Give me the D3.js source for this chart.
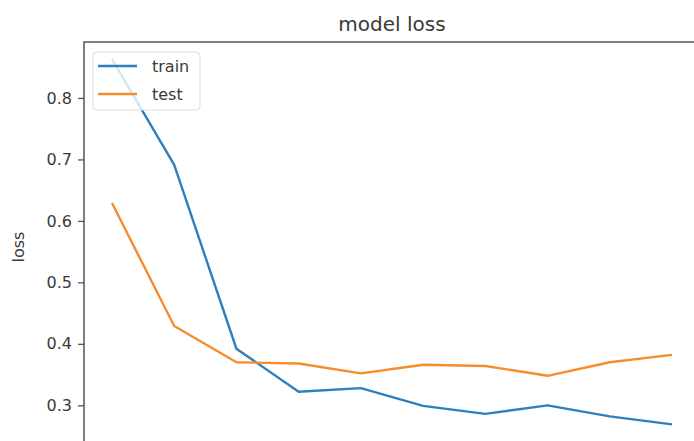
<!DOCTYPE html>
<html>
<head>
<meta charset="utf-8">
<script src="https://cdn.jsdelivr.net/npm/d3@7"></script>
<style>
  html, body { margin: 0; padding: 0; background: #fff; overflow: hidden; }
  text { font-family: "DejaVu Sans", sans-serif; fill: #3a3a3a; }
</style>
</head>
<body>
<div id="container"></div>
<script>
const width = 694,
      height = 441;

// plot box (the right and bottom spines fall just outside the picture)
const box = { left: 84, top: 42, right: 700, bottom: 443 };

// data
const epochs = [0, 1, 2, 3, 4, 5, 6, 7, 8, 9];
const trainLoss = [0.863, 0.691, 0.392, 0.322, 0.328, 0.299, 0.286, 0.300, 0.282, 0.269];
const testLoss = [0.629, 0.429, 0.370, 0.368, 0.352, 0.366, 0.364, 0.348, 0.370, 0.382];
const yTicks = [0.3, 0.4, 0.5, 0.6, 0.7, 0.8];

const series = [
  { name: "train", values: trainLoss, color: "#2c80bf" },
  { name: "test", values: testLoss, color: "#f58d2c" }
];

const xScale = d3.scaleLinear()
  .domain([-0.45, 9.45])
  .range([box.left, box.right]);

const yScale = d3.scaleLinear()
  .domain([0.2387, 0.891])
  .range([box.bottom, box.top]);

const svg = d3.select("#container")
  .append("svg")
  .attr("width", width)
  .attr("height", height);

const line = d3.line()
  .x((d, i) => xScale(epochs[i]))
  .y(d => yScale(d));

// lines
svg.selectAll("path.series")
  .data(series)
  .enter()
  .append("path")
  .attr("class", "series")
  .attr("fill", "none")
  .attr("stroke", d => d.color)
  .attr("stroke-width", 2.4)
  .attr("stroke-linejoin", "round")
  .attr("d", d => line(d.values));

// y axis
svg.append("g")
  .attr("transform", `translate(${box.left},0)`)
  .call(d3.axisLeft(yScale).tickValues(yTicks).tickFormat(d3.format(".1f")).tickSize(6).tickPadding(6))
  .call(g => g.select(".domain").remove())
  .call(g => g.selectAll(".tick line").attr("stroke", "#555").attr("stroke-width", 1.3))
  .call(g => g.selectAll(".tick text").style("font-size", "16px").attr("fill", "#3a3a3a"));

// spines
svg.append("path")
  .attr("d", `M${box.left},${box.bottom}V${box.top}H${box.right}V${box.bottom}Z`)
  .attr("fill", "none")
  .attr("stroke", "#555")
  .attr("stroke-width", 1.5);

// title
svg.append("text")
  .attr("x", (box.left + box.right) / 2)
  .attr("y", 31)
  .attr("text-anchor", "middle")
  .style("font-size", "20px")
  .text("model loss");

// y label
svg.append("text")
  .attr("transform", "rotate(-90)")
  .attr("x", -247)
  .attr("y", 24)
  .attr("text-anchor", "middle")
  .style("font-size", "16px")
  .text("loss");

// legend
const legend = svg.append("g");

legend.append("rect")
  .attr("x", 93)
  .attr("y", 52)
  .attr("width", 107)
  .attr("height", 58)
  .attr("rx", 4)
  .attr("fill", "#fff")
  .attr("fill-opacity", 0.8)
  .attr("stroke", "#ddd")
  .attr("stroke-width", 1);

legend.selectAll("g.item")
  .data(series)
  .enter()
  .append("g")
  .attr("class", "item")
  .attr("transform", (d, i) => `translate(98,${66 + i * 28})`)
  .each(function(d) {
    const g = d3.select(this);
    g.append("line")
      .attr("x1", 0).attr("x2", 39)
      .attr("stroke", d.color)
      .attr("stroke-width", 2.4);
    g.append("text")
      .attr("x", 54)
      .attr("dy", "0.35em")
      .style("font-size", "16px")
      .text(d.name);
  });
</script>
</body>
</html>
